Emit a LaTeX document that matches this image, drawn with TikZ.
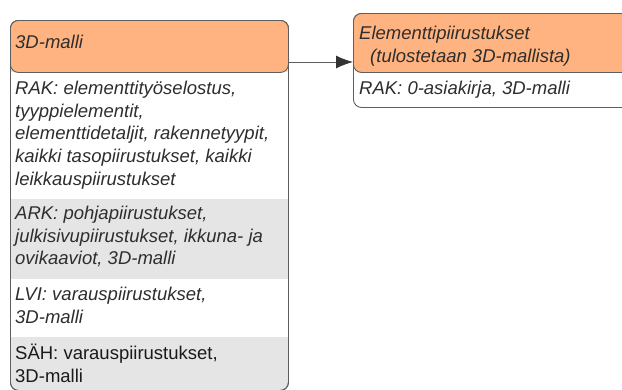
\documentclass[tikz,border=0pt]{standalone}
\usepackage{fontspec}
\setmainfont{Liberation Sans}
\usetikzlibrary{arrows.meta}

\definecolor{headorange}{HTML}{FFB380}
\definecolor{edgegray}{HTML}{5E5E5E}
\definecolor{rowgray}{HTML}{E5E5E5}
\definecolor{inkgray}{HTML}{2E2E2E}
\definecolor{inkdark}{HTML}{1A1A1A}
\definecolor{tipgray}{HTML}{333333}

\tikzset{
  boxframe/.style={draw=edgegray, line width=0.9pt, rounded corners=8pt,
    fill=rowgray, inner sep=0pt, anchor=north west},
  header/.style={draw=edgegray, line width=0.9pt, rounded corners=8pt,
    fill=headorange, inner sep=0pt, anchor=north west},
  rowband/.style={inner sep=0pt, anchor=north west},
  rowtext/.style={anchor=north west, inner sep=0pt, align=left, text=inkgray,
    font=\fontsize{18.5}{22.6}\selectfont\itshape},
  plaintext/.style={rowtext, text=inkdark, font=\fontsize{18.5}{22.6}\selectfont},
  link/.style={draw=edgegray, line width=1pt,
    -{Latex[length=17pt,width=13pt,color=tipgray]}}
}

\begin{document}
\begin{tikzpicture}[x=1pt, y=-1pt]
  \useasboundingbox (0,0) rectangle (622,389);
  \clip (0,0) rectangle (622,389);

  % --- 3D model list -------------------------------------------------
  \node[boxframe, minimum width=278pt, minimum height=370pt] (modelbox) at (10,20) {};
  \node[rowband, fill=white, minimum width=277pt, minimum height=127pt] (rakband) at (10.5,72) {};
  \node[rowband, fill=white, minimum width=277pt, minimum height=58pt] (lviband) at (10.5,279) {};
  \node[boxframe, fill=none, minimum width=278pt, minimum height=370pt] (modeledge) at (10,20) {};
  \node[header, minimum width=278pt, minimum height=52pt] (modelhead) at (10,20) {};

  \node[rowtext] (modeltitle) at (15,35) {3D-malli};
  \node[rowtext] (raktext) at (15,81) {RAK: elementtityöselostus,\\tyyppielementit,\\elementtidetaljit, rakennetyypit,\\kaikki tasopiirustukset, kaikki\\leikkauspiirustukset};
  \node[rowtext] (arktext) at (15,206) {ARK: pohjapiirustukset,\\julkisivupiirustukset, ikkuna- ja\\ovikaaviot, 3D-malli};
  \node[rowtext] (lvitext) at (15,287) {LVI: varauspiirustukset,\\3D-malli};
  \node[plaintext] (sahtext) at (15,344) {SÄH: varauspiirustukset,\\3D-malli};

  % --- element drawings ----------------------------------------------
  \node[boxframe, fill=white, minimum width=300pt, minimum height=94pt] (elembox) at (353,13) {};
  \node[header, minimum width=300pt, minimum height=59pt] (elemhead) at (353,13) {};
  \node[rowtext] (elemtitle) at (359,26) {Elementtipiirustukset\\\hspace*{11pt}(tulostetaan 3D-mallista)};
  \node[rowtext] (elemtext) at (359,81) {RAK: 0-asiakirja, 3D-malli};

  % --- connector -----------------------------------------------------
  \coordinate (linklevel) at (0,62);
  \draw[link] (modelhead.east |- linklevel) -- (elemhead.west |- linklevel);
\end{tikzpicture}
\end{document}
